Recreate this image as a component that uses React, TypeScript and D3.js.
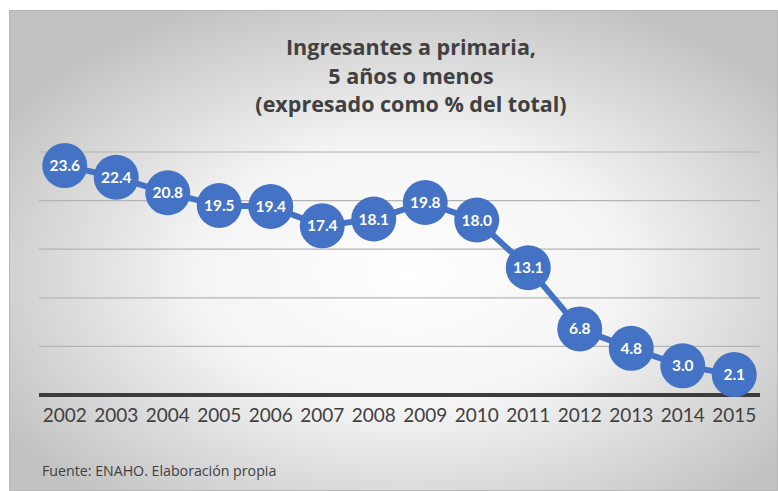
import React from 'react';
import * as d3 from 'd3';

const years = ['2002', '2003', '2004', '2005', '2006', '2007', '2008', '2009', '2010', '2011', '2012', '2013', '2014', '2015'];
const values = [23.6, 22.4, 20.8, 19.5, 19.4, 17.4, 18.1, 19.8, 18.0, 13.1, 6.8, 4.8, 3.0, 2.1];
const gridTicks = [5, 10, 15, 20, 25];
const titleLines = ['Ingresantes a primaria,', '5 años o menos', '(expresado como % del total)'];

const W = 778;
const H = 491;
const font = "Lato, 'Open Sans', sans-serif";
const wideFont = "'Open Sans', sans-serif";

export default function App() {
  const x = d3.scaleBand().domain(years).range([39, 760]);
  const y = d3.scaleLinear().domain([0, 25]).range([395, 152]);
  const cx = (d: string) => (x(d) as number) + x.bandwidth() / 2;

  const line = d3
    .line<number>()
    .x((_, i) => cx(years[i]))
    .y((d) => y(d));

  return (
    <svg width={W} height={H} style={{ position: 'absolute', left: 0, top: 0 }}>
      <defs>
        <radialGradient id="bg" cx="0.52" cy="0.55" r="0.62">
          <stop offset="0" stopColor="#ffffff" />
          <stop offset="0.45" stopColor="#f4f4f4" />
          <stop offset="1" stopColor="#c2c2c2" />
        </radialGradient>
      </defs>
      <rect x={0} y={0} width={W} height={H} fill="#fff" />
      <rect x={9.5} y={10.5} width={W - 10} height={H - 11} fill="url(#bg)" stroke="#b8b8b8" strokeWidth={1} />

      {titleLines.map((t, i) => (
        <text
          key={t}
          x={411}
          y={55 + i * 28.5}
          textAnchor="middle"
          fontFamily={wideFont}
          fontWeight="bold"
          fontSize={21.5}
          fill="#404040"
        >
          {t}
        </text>
      ))}

      {gridTicks.map((t) => (
        <line key={t} x1={39} x2={760} y1={y(t)} y2={y(t)} stroke="#b4b4b4" strokeWidth={1.2} />
      ))}
      <line x1={39} x2={760} y1={y(0)} y2={y(0)} stroke="#3c3c3c" strokeWidth={4} />

      <path d={line(values) ?? ''} fill="none" stroke="#4472C4" strokeWidth={6} strokeLinejoin="round" />
      {values.map((v, i) => (
        <g key={years[i]}>
          <circle cx={cx(years[i])} cy={y(v)} r={22.5} fill="#4472C4" />
          <text
            x={cx(years[i])}
            y={y(v) + 5.5}
            textAnchor="middle"
            fontFamily={font}
            fontWeight="bold"
            fontSize={15.5}
            fill="#ffffff"
          >
            {v.toFixed(1)}
          </text>
        </g>
      ))}

      {years.map((d) => (
        <text key={d} x={cx(d)} y={422} textAnchor="middle" fontFamily={font} fontSize={19} fill="#404040">
          {d}
        </text>
      ))}

      <text x={42} y={476} fontFamily={wideFont} fontSize={14.2} fill="#404040">
        Fuente: ENAHO. Elaboración propia
      </text>
    </svg>
  );
}
